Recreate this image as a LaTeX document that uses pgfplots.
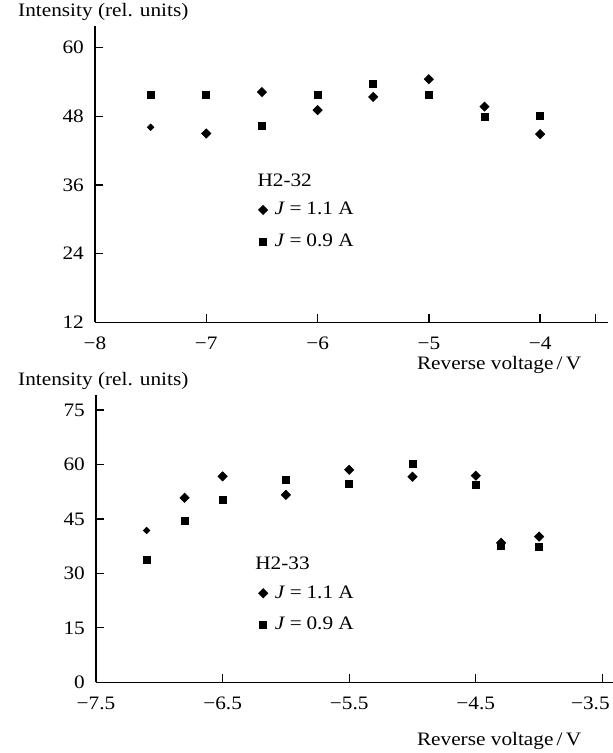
\documentclass[border=0pt]{standalone}
\usepackage{fontspec}
\setmainfont[FakeStretch=1.12]{Liberation Serif}
\usepackage{pgfplots}
\pgfplotsset{compat=1.18}
\pgfplotsset{
  myax/.style={
    scale only axis, axis lines=left,
    axis line style={-, line width=0.65pt, black},
    tick align=inside, major tick length=4pt,
    tick style={line width=0.65pt, black},
    anchor=south west, clip=false,
    xticklabel style={yshift=-4pt},
    yticklabel style={xshift=-2.2pt},
    legend style={draw=none, fill=none, inner sep=0pt, cells={anchor=west}, row sep=4pt,
      /tikz/every odd column/.append style={column sep=1.5pt}},
    legend image code/.code={\draw[mark repeat=2,mark phase=2,#1] plot coordinates {(0pt,0pt)(4.25pt,0pt)(8.5pt,0pt)};},
  },
  dia/.style={only marks, mark=square*, mark size=1.6pt, mark options={rotate=45, fill=black, draw=black}},
  sdia/.style={only marks, mark=square*, mark size=1.1pt, mark options={rotate=45, fill=black, draw=black}},
  sq/.style={only marks, mark=square*, mark size=1.75pt, mark options={fill=black, draw=black}},
}
\begin{document}
\fontsize{9.5}{11}\selectfont
\begin{tikzpicture}[x=1pt,y=1pt]
\useasboundingbox (0,0) rectangle (306.5,-376.5);
% ---------- top panel ----------
\begin{axis}[myax, at={(47.5pt,-161.15pt)}, width=256.5pt, height=148.15pt,
  xmin=-8, xmax=-3.39, ymin=12, ymax=63.8,
  xtick={-8,-7,-6,-5,-4,-3.5}, xticklabels={−8,−7,−6,−5,−4,{}},
  ytick={12,24,36,48,60}, yticklabels={12,24,36,48,60},
  legend style={at={(axis description cs:0.318,0.326)}, anchor=west}]
\addplot[dia] coordinates {(-7,45.0) (-6.5,52.25) (-6,49.1) (-5.5,51.4) (-5,54.5) (-4.5,49.7) (-4,44.9)};
\addlegendentry{\textit{J}\hspace{0.25em}=\hspace{0.25em}1.1 A}
\addplot[sq] coordinates {(-7.5,51.8) (-7,51.7) (-6.5,46.4) (-6,51.7) (-5.5,53.6) (-5,51.8) (-4.5,47.9) (-4,48.0)};
\addlegendentry{\textit{J}\hspace{0.25em}=\hspace{0.25em}0.9 A}
\addplot[sdia, forget plot] coordinates {(-7.5,46.1)};
\node[anchor=base west, inner sep=0pt] at (axis description cs:0.316,0.46) {H2-32};
\end{axis}
% ---------- bottom panel ----------
\begin{axis}[myax, at={(48pt,-341.15pt)}, width=258.5pt, height=143.65pt,
  xmin=-7.5, xmax=-3.416, ymin=0, ymax=79.1,
  xtick={-7.5,-6.5,-5.5,-4.5,-3.5}, xticklabels={−7.5,−6.5,−5.5,−4.5,\kern-12pt−3.5},
  ytick={0,15,30,45,60,75}, yticklabels={0,15,30,45,60,75},
  legend style={at={(axis description cs:0.314,0.255)}, anchor=west}]
\addplot[dia] coordinates {(-6.8,50.8) (-6.5,56.7) (-6.0,51.6) (-5.5,58.5) (-5.0,56.6) (-4.5,56.9) (-4.3,38.4) (-4.0,40.1)};
\addlegendentry{\textit{J}\hspace{0.25em}=\hspace{0.25em}1.1 A}
\addplot[sq] coordinates {(-7.1,33.6) (-6.8,44.3) (-6.5,50.3) (-6.0,55.7) (-5.5,54.5) (-5.0,60.0) (-4.5,54.4) (-4.3,37.5) (-4.0,37.4)};
\addlegendentry{\textit{J}\hspace{0.25em}=\hspace{0.25em}0.9 A}
\addplot[sdia, forget plot] coordinates {(-7.1,41.8)};
\node[anchor=base west, inner sep=0pt] at (axis description cs:0.3075,0.394) {H2-33};
\end{axis}
% ---------- outer labels ----------
\node[anchor=base west, inner sep=0pt] at (8.9,-8.35) {Intensity (rel. units)};
\node[anchor=base east, inner sep=0pt] at (290.75,-184.5) {Reverse voltage\,/\,V};
\node[anchor=base west, inner sep=0pt] at (8.9,-192.9) {Intensity (rel. units)};
\node[anchor=base east, inner sep=0pt] at (290.75,-372.5) {Reverse voltage\,/\,V};
\end{tikzpicture}
\end{document}
